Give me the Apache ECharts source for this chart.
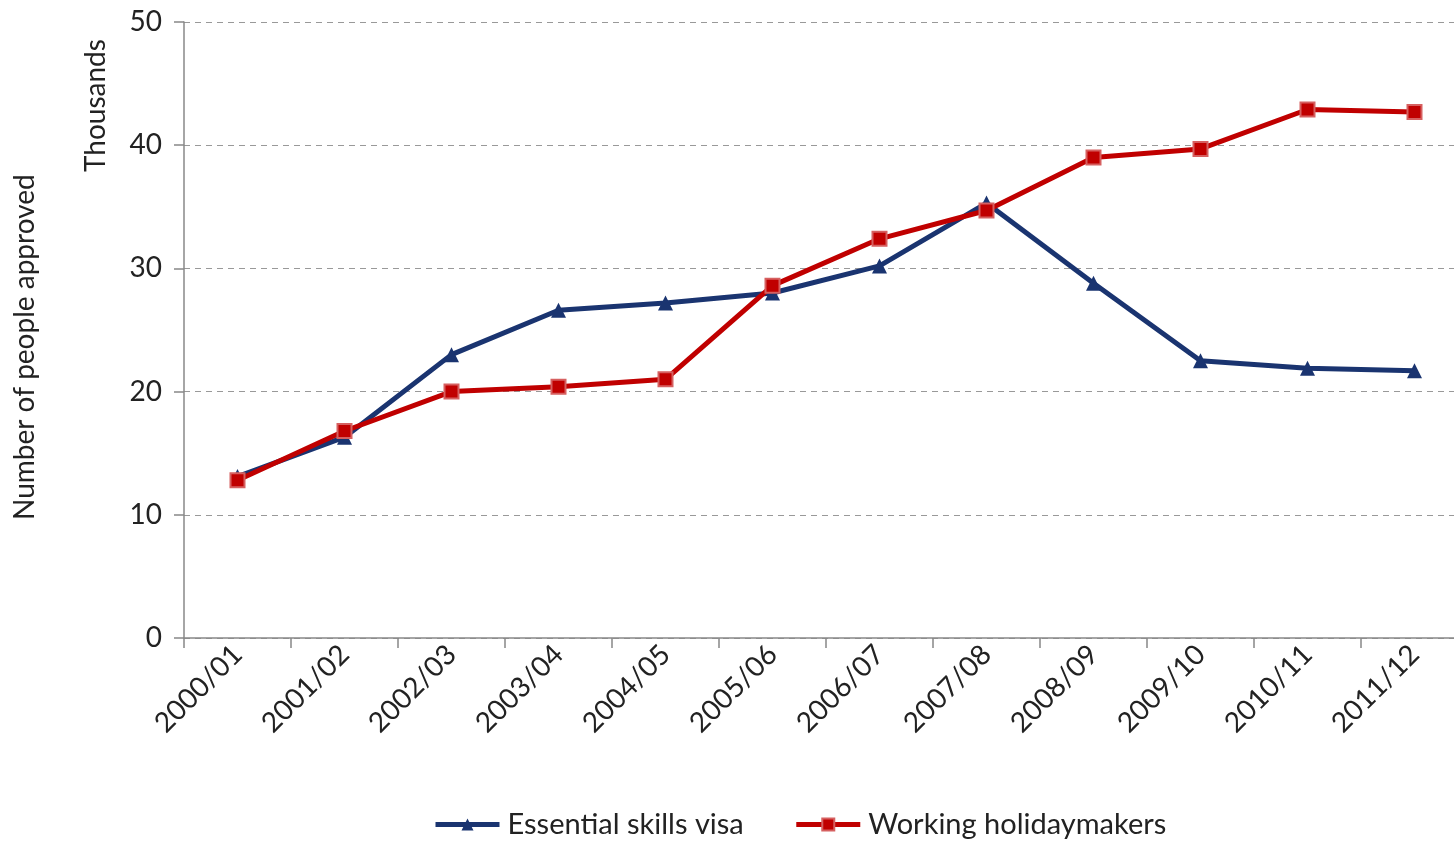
<!DOCTYPE html>
<html>
<head>
<meta charset="utf-8">
<script src="https://cdn.jsdelivr.net/npm/echarts@6/dist/echarts.min.js"></script>
<style>
html,body{margin:0;padding:0;background:#fff;overflow:hidden;}
#chart{width:1454px;height:845px;}
</style>
</head>
<body>
<div id="chart"></div>
<script>
const categories = ['2000/01','2001/02','2002/03','2003/04','2004/05','2005/06','2006/07','2007/08','2008/09','2009/10','2010/11','2011/12'];
const essentialSkills = [13.1, 16.3, 23.0, 26.6, 27.2, 28.0, 30.2, 35.3, 28.8, 22.5, 21.9, 21.7];
const workingHoliday = [12.8, 16.8, 20.0, 20.4, 21.0, 28.6, 32.4, 34.7, 39.0, 39.7, 42.9, 42.7];
const yTicks = [0, 10, 20, 30, 40, 50];

const FONT = 'Lato, "Open Sans", sans-serif';
const chart = echarts.init(document.getElementById('chart'));
chart.setOption({
  animation: false,
  backgroundColor: '#fff',
  grid: { left: 184, top: 22, width: 1284, height: 616, containLabel: false, outerBoundsMode: 'none' },
  legend: {
    bottom: 1,
    left: 428,
    itemWidth: 64,
    itemHeight: 15,
    itemGap: 50,
    lineStyle: { width: 5 },
    textStyle: { fontFamily: FONT, fontSize: 29, color: '#222', padding: [0, 0, 0, 3] },
    data: ['Essential skills visa', 'Working holidaymakers']
  },
  graphic: [
    { type: 'text', id: 'ytitle', rotation: Math.PI/2, x: 11, y: 520,
      style: { text: 'Number of people approved', font: '28px ' + FONT, fill: '#222', textAlign: 'left', textVerticalAlign: 'top' } },
    { type: 'text', id: 'thousands', rotation: Math.PI/2, x: 82, y: 172,
      style: { text: 'Thousands', font: '28px ' + FONT, fill: '#222', textAlign: 'left', textVerticalAlign: 'top' } }
  ],
  xAxis: {
    type: 'category',
    data: categories,
    boundaryGap: true,
    axisLine: { lineStyle: { color: '#888', width: 1.5 } },
    axisTick: { show: true, length: 10, lineStyle: { color: '#888', width: 1.5 } },
    axisLabel: { rotate: 45, fontFamily: FONT, fontSize: 28, color: '#222', margin: 12, interval: 0 }
  },
  yAxis: {
    type: 'value',
    min: 0, max: 50, interval: 10,
    axisLine: { show: true, lineStyle: { color: '#888', width: 1.5 } },
    axisTick: { show: true, length: 10, lineStyle: { color: '#888', width: 1.5 } },
    axisLabel: { fontFamily: FONT, fontSize: 28, color: '#222', margin: 22,
      formatter: v => yTicks.includes(v) ? String(v) : '' },
    splitLine: { show: true, lineStyle: { color: '#999', type: [6, 5], width: 1.2 } }
  },
  series: [
    {
      name: 'Essential skills visa', type: 'line', data: essentialSkills,
      symbol: 'triangle', symbolSize: 15, showAllSymbol: true,
      lineStyle: { color: '#1a3470', width: 5 },
      itemStyle: { color: '#1a3470' }, z: 2
    },
    {
      name: 'Working holidaymakers', type: 'line', data: workingHoliday,
      symbol: 'rect', symbolSize: 14, showAllSymbol: true,
      lineStyle: { color: '#c00000', width: 5 },
      itemStyle: { color: '#c00000', borderColor: '#d66060', borderWidth: 2 }, z: 3
    }
  ]
});
</script>
</body>
</html>
